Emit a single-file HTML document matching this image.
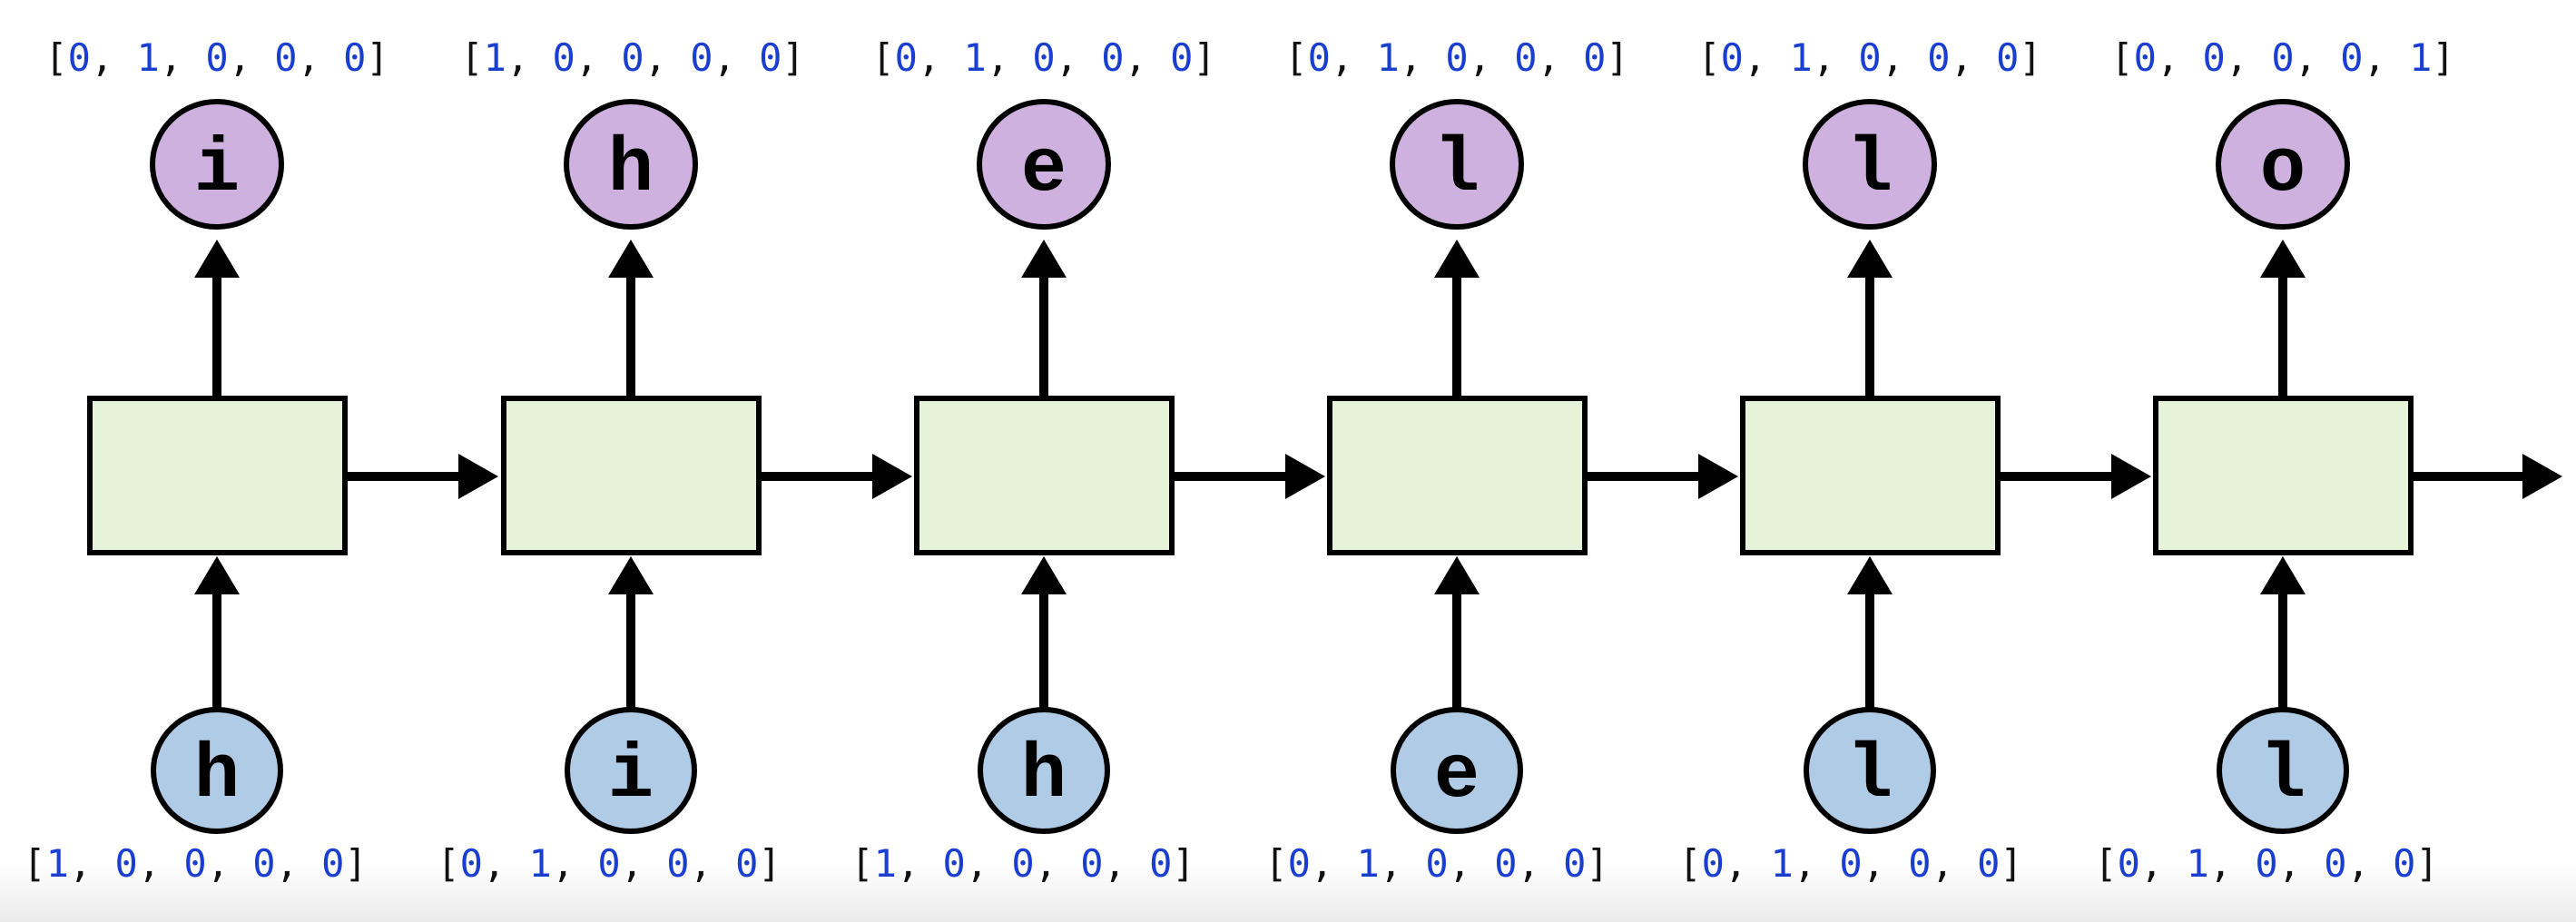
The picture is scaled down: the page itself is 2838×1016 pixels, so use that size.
<!DOCTYPE html>
<html><head><meta charset="utf-8"><style>
html,body{margin:0;padding:0;background:#fff;}
svg{display:block;}
.t{font-family:"DejaVu Sans Mono","Liberation Mono",monospace;font-size:42px;fill:#111;}
.b{fill:#1a3fd0;}
.l{font-family:"Liberation Mono",monospace;font-size:84px;font-weight:bold;fill:#000;}
</style></head><body>
<svg width="2838" height="1016" viewBox="0 0 2838 1016" xmlns="http://www.w3.org/2000/svg">
<defs>
<linearGradient id="g" x1="0" y1="0" x2="0" y2="1">
<stop offset="0" stop-color="#ffffff"/><stop offset="1" stop-color="#ebebeb"/>
</linearGradient>
<g id="col">
  <line x1="0" y1="439" x2="0" y2="300" stroke="#000" stroke-width="10"/>
  <polygon points="0,264 -25,306 25,306" fill="#000"/>
  <line x1="0" y1="781" x2="0" y2="650" stroke="#000" stroke-width="10"/>
  <polygon points="0,613 -25,655 25,655" fill="#000"/>
  <rect x="-140" y="439" width="281" height="170" fill="#e6f3d8" stroke="#000" stroke-width="6"/>
  <line x1="141" y1="525" x2="270" y2="525" stroke="#000" stroke-width="10"/>
  <polygon points="310,525 266,500 266,550" fill="#000"/>
  <ellipse cx="0" cy="181" rx="71" ry="69" fill="#cfb1e0" stroke="#000" stroke-width="6"/>
  <ellipse cx="0" cy="849" rx="70" ry="67" fill="#b0cbe6" stroke="#000" stroke-width="6"/>
</g>
</defs>
<rect x="0" y="950" width="2838" height="66" fill="url(#g)"/>
<use href="#col" x="239"/>
<use href="#col" x="695"/>
<use href="#col" x="1150"/>
<use href="#col" x="1605"/>
<use href="#col" x="2060"/>
<g transform="translate(2515,0)">
  <line x1="0" y1="439" x2="0" y2="300" stroke="#000" stroke-width="10"/>
  <polygon points="0,264 -25,306 25,306" fill="#000"/>
  <line x1="0" y1="781" x2="0" y2="650" stroke="#000" stroke-width="10"/>
  <polygon points="0,613 -25,655 25,655" fill="#000"/>
  <rect x="-140" y="439" width="281" height="170" fill="#e6f3d8" stroke="#000" stroke-width="6"/>
  <line x1="141" y1="525" x2="268" y2="525" stroke="#000" stroke-width="10"/>
  <polygon points="308,525 264,500 264,550" fill="#000"/>
  <ellipse cx="0" cy="181" rx="71" ry="69" fill="#cfb1e0" stroke="#000" stroke-width="6"/>
  <ellipse cx="0" cy="849" rx="70" ry="67" fill="#b0cbe6" stroke="#000" stroke-width="6"/>
</g>
<g class="l" text-anchor="middle">
<text x="239" y="209">i</text><text x="695" y="209">h</text><text x="1150" y="209">e</text>
<text x="1605" y="209">l</text><text x="2060" y="209">l</text><text x="2515" y="209">o</text>
<text x="239" y="877">h</text><text x="695" y="877">i</text><text x="1150" y="877">h</text>
<text x="1605" y="877">e</text><text x="2060" y="877">l</text><text x="2515" y="877">l</text>
</g>
<g class="t" text-anchor="middle">
<text x="239" y="78">[<tspan class="b">0</tspan>, <tspan class="b">1</tspan>, <tspan class="b">0</tspan>, <tspan class="b">0</tspan>, <tspan class="b">0</tspan>]</text>
<text x="697" y="78">[<tspan class="b">1</tspan>, <tspan class="b">0</tspan>, <tspan class="b">0</tspan>, <tspan class="b">0</tspan>, <tspan class="b">0</tspan>]</text>
<text x="1150" y="78">[<tspan class="b">0</tspan>, <tspan class="b">1</tspan>, <tspan class="b">0</tspan>, <tspan class="b">0</tspan>, <tspan class="b">0</tspan>]</text>
<text x="1605" y="78">[<tspan class="b">0</tspan>, <tspan class="b">1</tspan>, <tspan class="b">0</tspan>, <tspan class="b">0</tspan>, <tspan class="b">0</tspan>]</text>
<text x="2060" y="78">[<tspan class="b">0</tspan>, <tspan class="b">1</tspan>, <tspan class="b">0</tspan>, <tspan class="b">0</tspan>, <tspan class="b">0</tspan>]</text>
<text x="2515" y="78">[<tspan class="b">0</tspan>, <tspan class="b">0</tspan>, <tspan class="b">0</tspan>, <tspan class="b">0</tspan>, <tspan class="b">1</tspan>]</text>
<text x="215" y="966">[<tspan class="b">1</tspan>, <tspan class="b">0</tspan>, <tspan class="b">0</tspan>, <tspan class="b">0</tspan>, <tspan class="b">0</tspan>]</text>
<text x="671" y="966">[<tspan class="b">0</tspan>, <tspan class="b">1</tspan>, <tspan class="b">0</tspan>, <tspan class="b">0</tspan>, <tspan class="b">0</tspan>]</text>
<text x="1127" y="966">[<tspan class="b">1</tspan>, <tspan class="b">0</tspan>, <tspan class="b">0</tspan>, <tspan class="b">0</tspan>, <tspan class="b">0</tspan>]</text>
<text x="1583" y="966">[<tspan class="b">0</tspan>, <tspan class="b">1</tspan>, <tspan class="b">0</tspan>, <tspan class="b">0</tspan>, <tspan class="b">0</tspan>]</text>
<text x="2039" y="966">[<tspan class="b">0</tspan>, <tspan class="b">1</tspan>, <tspan class="b">0</tspan>, <tspan class="b">0</tspan>, <tspan class="b">0</tspan>]</text>
<text x="2497" y="966">[<tspan class="b">0</tspan>, <tspan class="b">1</tspan>, <tspan class="b">0</tspan>, <tspan class="b">0</tspan>, <tspan class="b">0</tspan>]</text>
</g>
</svg>
</body></html>
